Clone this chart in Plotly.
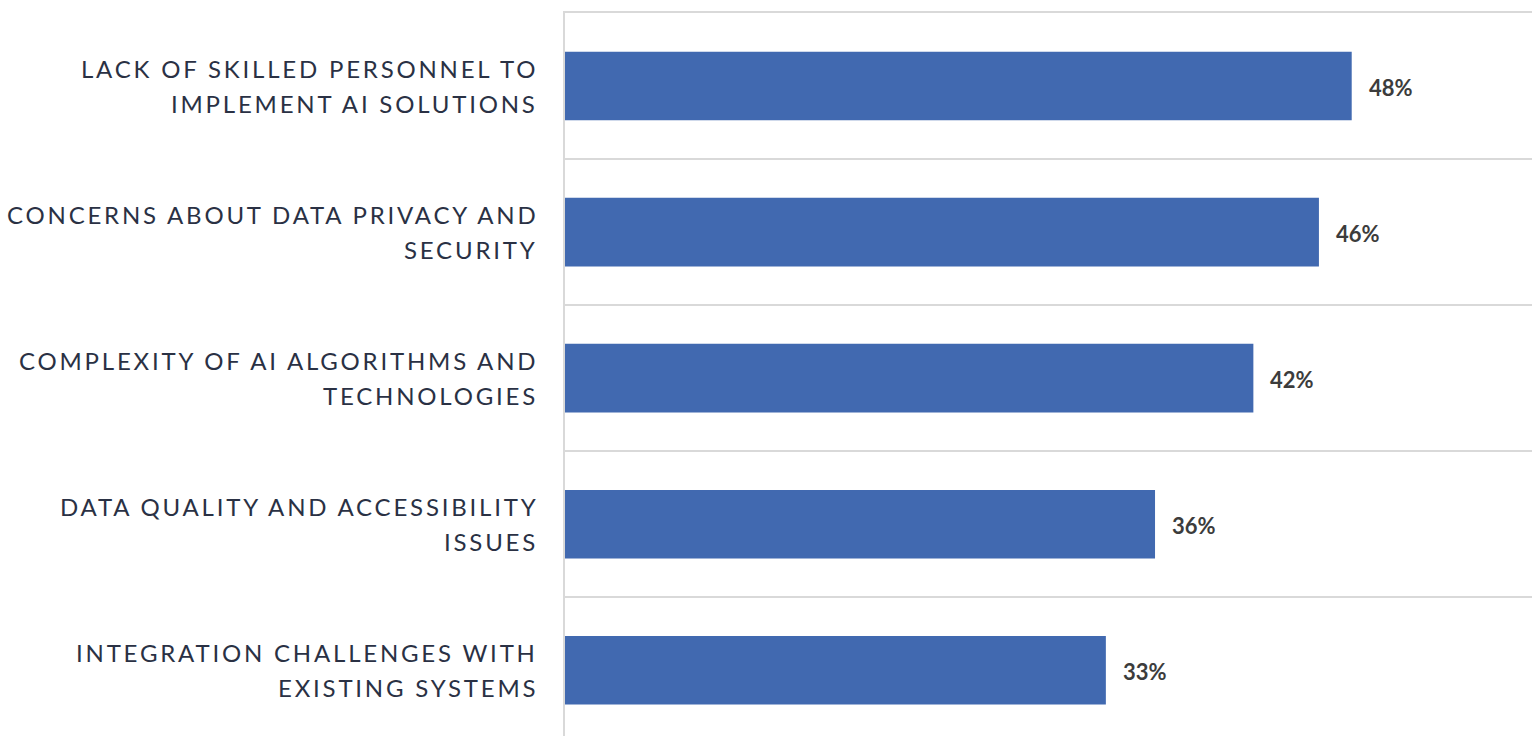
import plotly.graph_objects as go

# Survey results: barriers to AI adoption
barriers = [
    ["LACK OF SKILLED PERSONNEL TO", "IMPLEMENT AI SOLUTIONS"],
    ["CONCERNS ABOUT DATA PRIVACY AND", "SECURITY"],
    ["COMPLEXITY OF AI ALGORITHMS AND", "TECHNOLOGIES"],
    ["DATA QUALITY AND ACCESSIBILITY", "ISSUES"],
    ["INTEGRATION CHALLENGES WITH", "EXISTING SYSTEMS"],
]
shares = [48, 46, 42, 36, 33]

BAR_COLOR = "#4169b0"
LABEL_COLOR = "#2a3144"
VALUE_COLOR = "#3c3c3c"
GRID_COLOR = "#d9d9d9"
FONT = "Lato, Open Sans, sans-serif"

cats = [" ".join(b) for b in barriers]

fig = go.Figure(
    go.Bar(
        x=shares,
        y=cats,
        orientation="h",
        width=0.47,
        marker=dict(color=BAR_COLOR, line=dict(width=0)),
        hoverinfo="skip",
    )
)

# value labels just past the bar ends
for cat, v in zip(cats, shares):
    fig.add_annotation(
        x=v, y=cat, text=f"<b>{v}%</b>", showarrow=False,
        xanchor="left", yanchor="middle", xshift=15, yshift=-1,
        font=dict(family=FONT, size=22, color=VALUE_COLOR),
    )

# two-line, letter-spaced category labels to the left of the axis
LINE_GAP = 17.3
for cat, lines in zip(cats, barriers):
    for i, ln in enumerate(lines):
        fig.add_annotation(
            x=0, xref="paper", y=cat, yref="y",
            text=f'<span style="letter-spacing:2.8px">{ln}</span>',
            showarrow=False, xanchor="right", yanchor="middle",
            xshift=-25, yshift=LINE_GAP if i == 0 else -LINE_GAP,
            font=dict(family=FONT, size=24, color=LABEL_COLOR),
        )

fig.update_layout(
    width=1532,
    height=736,
    margin=dict(l=565, r=0, t=13, b=0),
    paper_bgcolor="white",
    plot_bgcolor="white",
    showlegend=False,
)

fig.update_xaxes(
    range=[0, 59],
    showgrid=False,
    zeroline=False,
    showticklabels=False,
    showline=True,
    side="top",
    linecolor=GRID_COLOR,
    linewidth=2,
)

fig.update_yaxes(
    type="category",
    categoryorder="array",
    categoryarray=cats,
    range=[4.45, -0.5],
    tickson="boundaries",
    ticks="",
    showticklabels=False,
    showgrid=True,
    gridcolor=GRID_COLOR,
    gridwidth=2,
    showline=True,
    linecolor=GRID_COLOR,
    linewidth=2,
)

fig.write_html("out.html")
